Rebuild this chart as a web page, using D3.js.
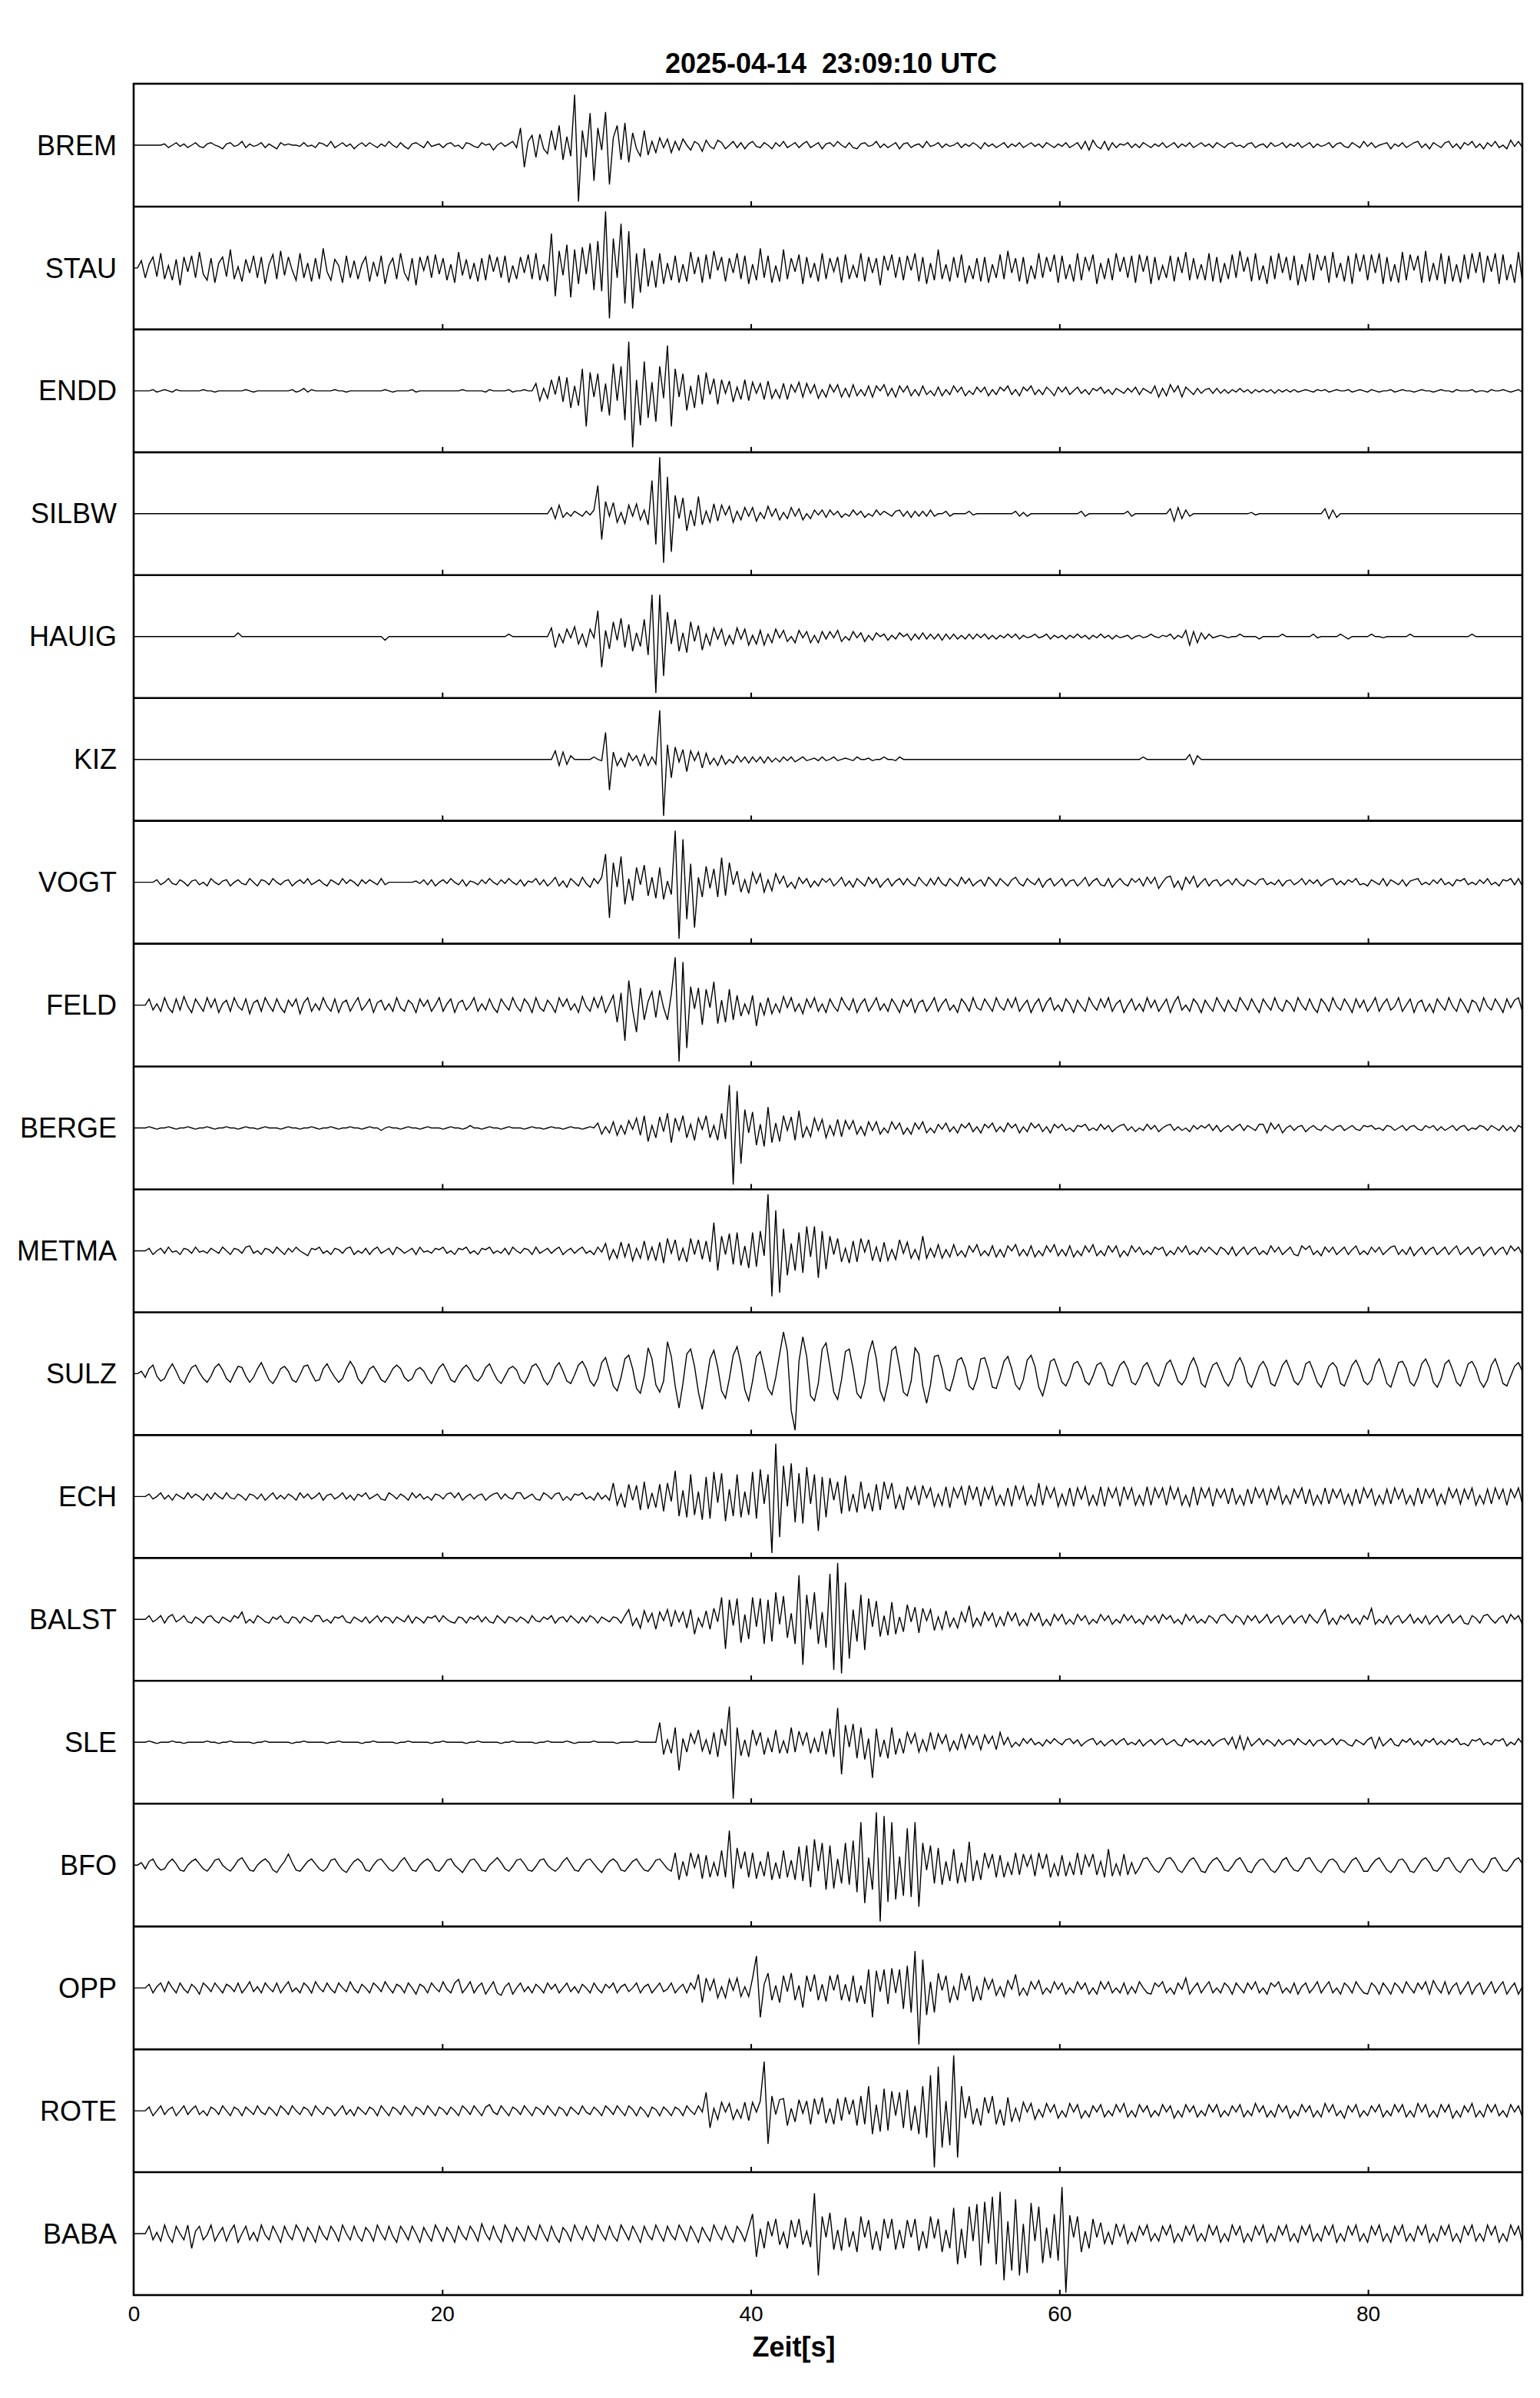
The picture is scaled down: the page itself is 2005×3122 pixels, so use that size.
<!DOCTYPE html>
<html>
<head>
<meta charset="utf-8">
<script src="https://cdn.jsdelivr.net/npm/d3@7"></script>
<style>
  body { margin: 0; background: #fff; }
  text { font-family: "Liberation Sans", Arial, sans-serif; fill: #000; }
</style>
</head>
<body>
<svg id="chart"></svg>
<script>
const title = '2025-04-14  23:09:10 UTC'
const axisLabel = 'Zeit[s]'
const stations = ['BREM', 'STAU', 'ENDD', 'SILBW', 'HAUIG', 'KIZ', 'VOGT', 'FELD', 'BERGE',
  'METMA', 'SULZ', 'ECH', 'BALST', 'SLE', 'BFO', 'OPP', 'ROTE', 'BABA']
const timeTicks = [0, 20, 40, 60, 80]
const panelTicks = [20, 40, 60, 80]
const timeSpan = [0, 90]
const ampRange = [-50, 50]

// peak amplitudes read every 0.25 s (one row = 5 s), +-50 fills half a panel
const brem = [
  0,0,0,0, 0,0,0,0, 1,-2,0,2, -1,1,-2,0, 2,-1,-2,1,
  2,0,-1,-3, 1,2,-1,0, 3,-2,1,-1, 0,2,-2,1, -1,-3,2,0,
  1,0,0,-1, 2,-1,0,-2, 2,1,-1,3, -2,0,2,-1, 1,-3,0,2,
  -1,2,0,-2, 1,-1,3,0, -2,2,-1,-3, 1,2,0,-2, 3,-1,0,1,
  -2,1,2,-1, 0,-3,2,1, -1,-2,2,0, 1,-4,0,2, -1,1,3,-2,
  14,-18,3,8, -10,9,-3,-7, 12,-4,16,-12, 7,-9,41,-46, 12,-10,26,-29,
  14,-4,27,-32, 6,16,-12,18, -14,10,-3,-9, 12,-8,3,-6, 6,-2,5,-6,
  3,-4,5,0, -4,3,1,-5, 4,-1,-3,4, 2,-3,0,3, -2,2,-3,1,
  3,-1,-2,2, 0,-3,2,-1, 3,-2,0,2, -2,1,3,-2, 0,2,-3,1,
  2,-1,3,0, -2,2,-2,-3, 1,2,-1,0, 3,-2,1,-2, 0,2,-3,1,
  2,-2,0,1, -2,3,-1,0, 2,-2,1,-1, 0,2,-2,1, -1,2,0,-3,
  2,-1,1,-2, 0,2,-2,1, -1,2,-2,0, 2,-1,1,-2, 2,0,-2,1,
  -1,2,-2,0, 2,-3,3,-4, 4,-1,-3,3, -4,2,-2,1, 0,2,-2,1,
  -2,2,0,-2, 1,-1,2,-2, 0,2,-2,1, -1,2,-2,0, 2,-1,1,-2,
  2,0,-2,1, 2,-1,0,-2, 1,2,-2,0, 1,-2,2,-1, 0,2,-2,1,
  -1,2,-2,0, 2,-2,1,-1, 0,2,-2,1, 2,-1,-2,2, 0,-2,3,-1,
  2,-2,0,1, 2,-3,1,-1, 2,-2,0,2, 3,-2,1,-3, 2,0,-2,2,
  3,-2,1,-3, 2,0,3,-2, 1,-3,2,-1, 3,-2,0,-3, 4,-1,3,-2
]
const stau = [
  0,0,6,-8, 3,9,-7,12, -9,2,-10,7, -14,9,-3,10, -8,13,-5,-10,
  8,-12,4,9, -7,15,-9,1, -11,7,-4,10, -8,9,-13,3, 11,-9,14,-6,
  9,-2,-10,12, -8,4,-11,8, -9,16,-3,-10, 7,2,-12,10, -8,6,-9,3,
  9,-11,5,-7, 10,-13,2,8, -9,12,-4,-10, 8,-14,9,-2, 10,-8,11,-5,
  8,-10,3,-12, 13,-6,7,-9, 4,-11,8,-10, 11,-3,9,-8, 10,-12,2,-9,
  9,-4,11,-9, 12,-10,3,-11, 28,-23,14,-6, 19,-24,15,-13, 17,-5,20,-18,
  22,-19,46,-41, 24,-8,36,-29, 30,-33,12,-20, 16,-15,6,-16, 12,-13,4,-10,
  10,-12,3,-11, 13,-5,9,-12, 11,-9,14,-2, 9,-11,8,-4, 12,-9,10,-13,
  3,-10,16,-8, 10,-12,2,-11, 15,-9,8,-3, 11,-13,9,-8, 4,-11,12,-9,
  8,-3,9,-12, 11,-9,2,-8, 12,-11,9,-4, 8,-14,10,-2, 11,-8,9,-10,
  10,-2,12,-11, 9,-13,4,-10, 15,-9,3,-11, 9,-8,11,-12, 2,-9,8,-11,
  9,-12,3,-8, 11,-9,14,-4, 8,-11,9,-13, 2,-9,12,-8, 9,-3,11,-12,
  10,-9,3,-11, 12,-10,9,-2, 11,-13,4,-9, 8,-10,12,-3, 9,-8,10,-12,
  11,-3,10,-13, 9,-10,2,-8, 10,-11,9,-4, 13,-10,8,-9, 3,-10,12,-11,
  9,-12,4,-9, 11,-8,14,-3, 9,-11,12,-10, 2,-13,10,-9, 12,-4,9,-10,
  10,-14,3,-11, 12,-10,11,-2, 10,-12,13,-8, 4,-11,10,-13, 12,-3,11,-10,
  11,-4,12,-13, 9,-11,3,-12, 13,-10,11,-2, 10,-12,14,-11, 4,-10,12,-13,
  10,-11,3,-12, 11,-9,12,-4, 13,-12,10,-3, 12,-13,11,-10, 3,-12,13,-11
]
const endd = [
  0,0,0,0, 0,1,-1,0, 1,0,-1,1, 0,0,0,0, 0,0,1,0,
  0,-1,0,0, 0,0,0,0, 0,1,0,-1, 0,0,0,0, 0,0,0,0,
  0,1,-1,0, 2,-1,1,0, 0,0,0,0, 1,0,0,-1, 0,0,0,0,
  0,0,0,0, 0,1,0,-1, 0,0,0,0, 1,-1,0,0, 0,0,0,0,
  0,0,0,0, 0,1,0,0, 0,0,0,-1, 1,0,0,0, 0,1,-1,0,
  0,1,0,0, 6,-8,2,-6, 9,-3,12,-9, 11,-14,4,-12, 18,-29,15,-5,
  14,-17,6,-20, 22,-8,20,-24, 40,-46,9,-28, 24,-22,7,-25, 20,-6,37,-29,
  18,-5,14,-16, 4,-14,13,-11, 15,-3,10,-11, 9,-2,8,-9, 3,-7,9,-8,
  7,-2,6,-7, 8,-6,1,-6, 6,-7,5,-1, 7,-5,6,-2, 5,-6,1,-5,
  5,-1,5,-5, 2,-5,5,-4, 1,-4,4,-5, 4,0,5,-4, 2,-5,4,-1,
  4,-4,1,-4, 4,-3,0,-4, 3,-4,1,-3, 4,-1,3,-4, 0,-3,3,-1,
  3,-4,1,-3, 3,0,4,-3, 1,-4,3,0, 4,-3,1,-3, 3,0,-4,3,
  -1,3,-3,0, 3,-2,1,-3, 2,0,3,-2, 1,-3,2,0, -2,2,-1,3,
  -3,2,0,-2, 4,-5,2,-4, 5,-1,4,-5, 3,0,-3,2, -2,1,2,-2,
  2,-2,1,-2, 1,-1,2,-1, 1,-2,1,-1, 1,-1,1,-2, 1,-1,1,-1,
  1,-1,0,1, 0,-1,1,0, 1,-1,0,1, 0,0,1,-1, 0,1,0,-1,
  1,0,-1,0, 0,1,-1,0, 1,0,0,-1, 0,1,0,0, -1,0,1,0,
  0,-1,1,0, 0,0,1,-1, 0,0,-1,1, 0,0,1,0, -1,0,1,-1
]
const silbw = [
  0,0,0,0, 0,0,0,0, 0,0,0,0, 0,0,0,0, 0,0,0,0,
  0,0,0,0, 0,0,0,0, 0,0,0,0, 0,0,0,0, 0,0,0,0,
  0,0,0,0, 0,0,0,0, 0,0,0,0, 0,0,0,0, 0,0,0,0,
  0,0,0,0, 0,0,0,0, 0,0,0,0, 0,0,0,0, 0,0,0,0,
  0,0,0,0, 0,0,0,0, 0,0,0,0, 0,0,0,0, 0,0,0,0,
  0,0,0,0, 0,0,0,0, 5,-4,7,-3, 1,-2,2,0, -2,2,-1,3,
  23,-21,10,-2, 9,-7,1,-8, 7,-2,8,-5, 3,-9,27,-25, 46,-40,30,-31,
  15,-4,13,-14, 3,-10,14,-9, 2,-7,8,-6, 7,-1,6,-7, 2,-5,5,-2,
  5,-6,1,-4, 6,-2,4,-5, 1,-4,5,-2, 4,-5,0,-4, 3,-1,3,-3,
  3,-1,2,-3, 0,-2,3,-1, 2,-3,0,-2, 3,-1,2,0, -2,2,3,-2,
  2,-3,2,-2, 2,-2,3,-2, 0,0,2,-2, 0,0,0,0, 2,-1,0,0,
  0,0,0,0, 0,0,0,0, 2,-2,1,-2, 0,0,0,0, 0,0,0,0,
  0,0,0,0, 0,2,-2,0, 0,0,0,0, 0,0,0,0, 0,2,-2,0,
  0,0,0,0, 0,0,0,0, 4,-6,5,-4, 3,-2,0,0, 0,0,0,0,
  0,0,0,0, 0,0,0,0, 0,1,-1,0, 0,0,0,0, 0,0,0,0,
  0,0,0,0, 0,0,0,0, 4,-4,3,-3, 0,0,0,0, 0,0,0,0,
  0,0,0,0, 0,0,0,0, 0,0,0,0, 0,0,0,0, 0,0,0,0,
  0,0,0,0, 0,0,0,0, 0,0,0,0, 0,0,0,0, 0,0,0,0
]
const hauig = [
  0,0,0,0, 0,0,0,0, 0,0,0,0, 0,0,0,0, 0,0,0,0,
  0,0,0,0, 0,0,0,3, 0,0,0,0, 0,0,0,0, 0,0,0,0,
  0,0,0,0, 0,0,0,0, 0,0,0,0, 0,0,0,0, 0,0,0,0,
  0,0,0,0, 0,-3,0,0, 0,0,0,0, 0,0,0,0, 0,0,0,0,
  0,0,0,0, 0,0,0,0, 0,0,0,0, 0,0,0,0, 0,2,0,0,
  0,0,0,0, 0,0,0,0, 7,-9,2,-5, 6,-1,8,-6, 2,-8,6,-1,
  21,-25,5,-10, 12,-3,15,-9, 10,-12,3,-8, 14,-15,34,-46, 34,-32,20,-6,
  14,-12,3,-13, 12,-4,9,-11, 2,-7,7,-2, 6,-7,1,-6, 7,-2,6,-7,
  1,-6,5,-7, 2,-5,6,-1, 5,-4,0,-5, 5,-1,4,-5, 1,-5,4,-2,
  4,-1,5,-4, 0,-3,4,-1, 3,-4,1,-3, 3,0,2,-3, 1,-2,3,0,
  2,-3,2,-2, 3,-2,2,-2, 2,-3,2,-2, 2,-2,1,-2, 2,-2,2,-1,
  2,-2,1,-2, 1,-1,2,-1, 2,-2,1,-1, 0,2,-1,0, 2,-2,1,-1,
  1,-2,1,-1, 2,-1,1,-2, 1,-1,2,-1, 1,-2,1,-1, 0,1,-2,0,
  1,-1,0,2, 0,-1,1,0, 2,-2,1,-1, 5,-7,4,-5, 3,-2,2,-1,
  0,1,0,-1, 0,0,2,0, 0,0,0,-2, 0,0,0,0, 0,2,0,0,
  0,0,0,0, 0,2,-1,0, 0,0,0,0, 2,0,-2,0, 0,0,0,0,
  2,0,0,-1, 0,0,0,0, 0,0,2,0, 0,0,0,0, 0,0,0,0,
  0,0,0,0, 0,0,2,0, 0,0,0,0, 0,0,0,0, 0,0,0,0
]
const kiz = [
  0,0,0,0, 0,0,0,0, 0,0,0,0, 0,0,0,0, 0,0,0,0,
  0,0,0,0, 0,0,0,0, 0,0,0,0, 0,0,0,0, 0,0,0,0,
  0,0,0,0, 0,0,0,0, 0,0,0,0, 0,0,0,0, 0,0,0,0,
  0,0,0,0, 0,0,0,0, 0,0,0,0, 0,0,0,0, 0,0,0,0,
  0,0,0,0, 0,0,0,0, 0,0,0,0, 0,0,0,0, 0,0,0,0,
  0,0,0,0, 0,0,0,0, 0,7,-5,6, -4,3,0,0, 0,0,0,2,
  0,-1,22,-25, 6,-5,1,-6, 5,-1,3,-5, 4,-5,2,-4, 40,-46,12,-15,
  10,-2,8,-10, 7,-1,6,-7, 5,-4,1,-5, 3,-4,0,-3, 3,-2,2,-3,
  2,-2,2,-3, 2,-2,1,-2, 2,-1,2,-2, 0,2,-1,0, 1,-1,2,-1,
  0,2,-1,0, 1,0,-1,2, 0,0,1,-1, 0,0,2,0, 0,-1,2,0,
  0,0,0,0, 0,0,0,0, 0,0,0,0, 0,0,0,0, 0,0,0,0,
  0,0,0,0, 0,0,0,0, 0,0,0,0, 0,0,0,0, 0,0,0,0,
  0,0,0,0, 0,0,0,0, 0,0,0,0, 0,0,0,0, 0,0,0,0,
  0,2,0,0, 0,0,0,0, 0,0,0,0, 0,4,-4,3, 0,0,0,0,
  0,0,0,0, 0,0,0,0, 0,0,0,0, 0,0,0,0, 0,0,0,0,
  0,0,0,0, 0,0,0,0, 0,0,0,0, 0,0,0,0, 0,0,0,0,
  0,0,0,0, 0,0,0,0, 0,0,0,0, 0,0,0,0, 0,0,0,0,
  0,0,0,0, 0,0,0,0, 0,0,0,0, 0,0,0,0, 0,0,0,0
]
const vogt = [
  0,0,0,0, 0,0,2,-2, 0,3,-1,-2, 2,0,-3,1, 2,-2,0,-3,
  3,0,-2,1, 2,-3,0,2, -1,-2,3,0, -3,2,1,-2, 3,0,-2,1,
  2,-3,0,2, -1,3,-2,0, 2,-1,-3,2, 0,-2,3,-1, 2,0,-3,2,
  -1,2,0,-2, 3,-2,0,0, 0,0,0,0, 0,1,-1,2, -2,2,-3,0,
  2,-1,3,0, -2,2,-3,1, 0,-2,2,-1, 3,0,-2,2, -1,3,0,-2,
  2,-3,1,0, 3,-2,2,-3, 0,4,-3,1, -4,3,0,-3, 4,-1,-4,3,
  -1,4,23,-29, 16,-4,21,-18, 3,-15,12,-2, 14,-11,4,-13, 12,-14,1,-10,
  42,-46,35,-30, 15,-37,4,-12, 13,-5,11,-12, 20,-11,16,-2, 9,-8,2,-9,
  8,-1,7,-8, 2,-7,7,-1, 5,-4,0,-5, 4,-1,3,-4, 1,-3,3,0,
  3,-3,0,4, -3,1,-4,3, 0,-3,4,-1, 3,-4,0,3, -3,1,3,-2,
  3,-1,-3,4, 0,-3,3,-2, 4,-1,-3,3, 0,-3,4,-1, 3,-3,0,2,
  -3,4,1,-3, 3,0,-3,2, 4,-1,-3,3, 0,-2,3,-4, 1,3,-3,0,
  3,-3,1,2, -3,0,4,-3, 1,3,-2,-3, 3,-4,0,3, -1,-3,3,0,
  3,-3,4,-1, 4,-5,0,4, 5,-4,1,-6, 4,-1,5,-4, 0,3,-3,1,
  2,-3,0,2, -2,3,-1,-3, 2,0,-2,2, 3,-2,0,-2, 2,-3,1,2,
  -2,0,3,-2, 2,-1,2,-3, 0,2,3,-2, 1,-2,2,0, 3,-2,-1,-3,
  2,0,-2,3, -3,2,0,-2, 2,-3,1,2, 3,-2,0,-2, 2,-1,3,-2,
  0,-3,2,1, 3,-2,0,-2, 2,-1,3,-2, 0,-3,2,1, 3,-2,3,-3
]
const feld = [
  0,0,0,0, 5,-4,1,-5, 6,-2,-6,5, -4,7,-1,-6, 5,0,-5,6,
  -2,5,-6,1, 4,-5,6,-1, -4,5,-7,2, 4,-5,6,0, -5,5,-2,-6,
  4,-1,5,-7, 2,6,-5,1, -4,6,-1,-5, 5,-6,2,4, -5,1,6,-4,
  0,5,-6,2, 4,-4,1,-5, 6,-2,-5,4, 1,-6,5,-1, 4,-5,0,6,
  -5,1,5,-6, 2,4,-4,0, 6,-5,1,-4, 5,-2,-6,5, 0,-4,6,-1,
  -5,5,1,-6, 6,-2,-5,4, 0,-6,6,-1, 5,-4,1,-6, 7,-1,-5,6,
  -2,7,-6,1, 8,-14,10,-29, 20,-4,-22,14, -12,3,11,-10, 12,-2,-12,9,
  39,-46,35,-35, 15,-3,14,-16, 13,-2,19,-15, 4,-14,13,-12, 8,-9,1,-7,
  8,-17,2,-8, 6,-7,1,-6, 7,-2,6,-5, 1,-7,5,-2, 6,-5,1,-6,
  5,-1,-5,6, 0,-4,5,-6, 1,5,-5,0, 6,-4,1,-5, 5,0,-6,4,
  -1,5,-6,2, 4,-5,0,6, -5,1,5,-4, 0,-6,5,1, -5,6,-2,-4,
  5,0,-5,6, -1,-4,5,-2, 6,-5,0,4, -6,1,5,-5, 2,6,-4,0,
  -5,5,1,-6, 4,-1,-5,6, 0,-4,5,-2, 6,-5,1,4, -6,0,5,-4,
  1,-5,6,-2, 4,-5,0,5, -6,2,7,-4, 0,-5,5,1, -6,4,-1,-5,
  6,0,-5,4, -2,-5,6,1, -4,5,-1,-6, 5,0,-4,6, -2,-5,4,1,
  -5,6,0,-4, 5,-2,-6,5, 1,-5,6,-1, -4,5,0,-6, 5,-2,4,-5,
  0,6,-5,1, 5,-4,-1,6, -5,0,5,-6, 2,4,-5,1, -6,5,0,-4,
  6,-1,-5,5, 0,-6,4,2, -5,6,-1,-4, 5,0,-6,5, -2,4,6,-5
]
const berge = [
  0,0,0,0, 1,0,-1,0, 0,1,0,-1, 0,0,1,0, -1,0,0,1,
  0,-1,0,0, 1,0,0,-1, 0,1,0,0, -1,0,1,0, 0,0,-1,0,
  1,0,0,-1, 0,0,1,0, -1,0,0,1, 0,-1,0,0, 1,0,0,-1,
  0,1,0,0, -2,0,1,0, 0,-1,0,1, 0,0,-1,0, 1,0,0,0,
  -1,0,1,0, 0,-1,0,2, 0,0,-1,0, 1,0,0,-1, 0,1,0,0,
  0,-1,0,1, 0,0,-1,0, 1,0,0,-1, 0,1,0,0, -1,0,1,0,
  4,-5,1,-4, 5,-6,2,-5, 6,-1,8,-6, 10,-11,2,-8, 9,-3,12,-12,
  8,-2,10,-8, 3,-10,8,-1, 10,-8,2,-10, 12,-9,35,-46, 30,-29,15,-4,
  13,-14,3,-15, 17,-12,4,-11, 10,-2,9,-10, 14,-8,1,-7, 8,-2,7,-8,
  2,-6,7,-7, 6,-1,6,-5, 1,-6,5,-2, 5,-5,0,-4, 5,-1,4,-5,
  0,-5,4,-1, 5,-4,0,-4, 3,-1,4,-3, 1,-4,3,0, 4,-3,1,-4,
  3,0,4,-3, 1,-3,4,0, 3,-4,1,-3, 4,0,3,-3, 1,-4,3,0,
  3,-2,0,-3, 2,1,3,-2, 0,-2,3,-1, 2,-3,0,2, 3,-2,1,-3,
  0,-2,3,-1, 2,-3,0,2, 3,-2,1,-2, 0,-3,2,-1, 2,0,3,-2,
  2,-3,0,2, -2,1,3,-2, 2,0,-2,3, 3,-4,4,-1, 3,-4,0,2,
  -2,1,2,-3, 0,2,-1,-2, 2,0,-2,1, 2,-2,0,2, -1,-2,2,1,
  2,-1,0,-2, 2,1,-2,0, 2,-2,1,2, -1,-2,2,0, 2,-2,1,-2,
  0,2,-2,1, 2,-2,0,-1, 2,1,-2,2, 0,-2,2,-2, 1,-3,2,0
]
const metma = [
  0,0,0,0, 2,-3,0,2, -2,3,-1,0, -3,2,1,-2, 3,-1,0,-2,
  2,0,-2,3, 0,-3,2,1, -2,3,4,-2, 0,-3,2,1, -2,3,0,-3,
  2,-1,3,0, -2,-4,2,1, 3,-2,0,-3, 2,1,-2,2, 3,-3,0,-2,
  2,-3,1,3, -2,0,2,-3, 3,1,-2,0, 2,-3,3,-1, 0,-2,2,1,
  3,-2,0,-3, 2,1,3,-2, 0,-3,2,1, 3,-2,0,-2, 2,-3,3,0,
  -2,2,1,-3, 3,-2,0,2, -2,1,3,-3, 0,2,-2,1, 3,-2,0,-3,
  3,-1,6,-7, 1,-6,7,-5, 6,-8,2,-6, 8,-7,3,-8, 7,-10,10,-2,
  9,-8,2,-9, 10,-3,9,-7, 8,-9,23,-16, 12,-3,14,-11, 15,-12,4,-14,
  15,-13,16,-4, 46,-37,33,-34, 18,-20,6,-16, 15,-18,20,-5, 20,-22,16,-15,
  12,-3,10,-9, 2,-10,8,-9, 10,-1,9,-8, 3,-9,7,-8, 1,-7,9,-2,
  7,-6,1,-7, 12,-6,2,-5, 5,-6,1,-5, 5,-4,0,-5, 4,-1,5,-4,
  0,-4,4,-5, 1,-5,4,0, 5,-4,1,-4, 4,-5,0,-4, 4,-1,5,-4,
  1,-4,4,-5, 0,-4,4,-1, 5,-4,0,-4, 4,-1,4,-5, 0,-4,4,-1,
  3,-3,0,-3, 3,1,3,-4, 0,-3,3,-1, 4,-3,0,-3, 3,-1,3,0,
  -3,3,1,-3, 3,-4,0,3, -3,1,3,-3, 0,-3,4,-1, 3,-3,0,3,
  -3,-4,4,1, 4,-3,0,-4, 3,-1,3,-3, 0,3,-3,1, 4,-3,0,-3,
  3,-1,3,-3, 0,3,4,-3, 1,-3,3,-4, 0,3,-3,1, 3,-3,0,3,
  -3,1,4,-3, 0,3,-3,1, 3,-4,0,3, -3,1,3,-3, 4,0,3,-3
]
const sulz = [
  0,0,2,-3, 4,7,-2,-6, -4,3,8,2, -5,-8,-1,5, 7,1,-4,-7,
  -2,5,8,3, -4,-7,0,6, 5,-2,-7,-3, 4,9,2,-5, -8,-3,4,6,
  2,-5,-7,-1, 6,7,0,-6, -5,4,8,2, -3,-7,-4,4, 10,5,-4,-8,
  -3,4,6,1, -5,-7,-2,4, 7,4,-3,-6, -4,3,5,2, -4,-8,-1,5,
  8,2,-5,-7, -1,4,7,3, -4,-6,-2,5, 8,1,-5,-8, -2,4,6,3,
  -5,-8,-2,6, 8,3,-5,-9, -4,5,9,2, -6,-8,-1,7, 10,4,-6,-10,
  -4,9,13,2, -10,-14,-3,12, 15,4,-12,-16, -2,21,12,-9, -15,-6,26,14,
  -10,-28,-8,16, 20,6,-15,-29, -9,12,19,5, -14,-20,-4,15, 22,8,-13,-22,
  -6,14,18,4, -12,-17,-3,16, 34,18,-30,-46, 10,30,14,-18, -22,-8,20,25,
  6,-15,-21,-5, 18,20,4,-16, -20,-8,16,27, 12,-14,-22,-8, 19,22,5,-15,
  -18,-6,21,16, -10,-24,-9,14, 15,4,-12,-14, -3,11,13,5, -10,-13,-4,12,
  13,3,-11,-12, -2,10,14,4, -9,-13,-5,11, 15,6,-11,-18, -6,10,12,3,
  -7,-10,-3,8, 10,4,-6,-9, -2,7,9,3, -8,-10,-1,7, 10,4,-7,-9,
  -3,6,9,2, -7,-10,-2,8, 11,3,-6,-9, -4,7,13,5, -8,-11,-1,7,
  9,2,-6,-10, -4,8,13,6, -7,-11,-3,6, 10,4,-8,-10, -2,7,11,3,
  -6,-9,-4,8, 10,2,-7,-11, -3,6,9,5, -8,-10,-2,7, 11,4,-6,-9,
  -5,7,12,3, -8,-11,-1,9, 10,4,-7,-10, -3,8,12,5, -7,-11,-4,8,
  11,3,-7,-10, -2,8,10,4, -6,-11,-5,7, 12,3,-8,-10, -2,6,9,2
]
const ech = [
  0,0,0,0, 2,-2,0,3, -2,1,-3,2, 0,-2,3,-1, 2,0,-3,2,
  -2,3,0,-2, 3,-1,-2,2, 0,-3,2,1, -2,2,-3,0, 3,-2,1,-2,
  2,0,-3,3, -1,2,-2,0, 3,-3,1,2, -2,0,3,-2, 1,-3,2,0,
  3,-2,0,2, -2,-3,3,1, -2,2,0,-3, 3,-1,2,-2, 0,-3,2,1,
  -2,2,3,-1, 3,-3,0,2, -2,1,2,-3, 0,2,3,-2, 2,-1,-2,3,
  3,-2,0,2, -2,-3,3,1, -2,2,3,-3, 0,-3,2,1, 3,-2,0,-3,
  3,-2,1,-3, 11,-7,2,-9, 10,-3,9,-11, 12,-10,3,-9, 10,-12,11,-4,
  21,-16,5,-17, 18,-15,4,-19, 16,-18,20,-5, 19,-20,6,-16, 18,-17,4,-15,
  20,-18,22,-6, 18,-46,43,-33, 25,-8,27,-21, 19,-22,24,-6, 18,-28,16,-17,
  15,-3,12,-14, 17,-12,2,-13, 12,-10,3,-12, 10,-11,12,-2, 11,-10,1,-11,
  8,-2,8,-7, 9,-1,7,-8, 2,-7,8,-9, 7,-1,8,-7, 9,-2,8,-8,
  7,-2,8,-7, 1,-7,7,-8, 9,-2,8,-7, 1,-8,11,-7, 8,-1,7,-8,
  2,-7,7,-8, 7,-2,8,-7, 1,-7,8,-8, 7,-1,7,-8, 8,-2,7,-7,
  1,-7,8,-7, 7,-1,7,-7, 8,-2,7,-7, 1,-8,8,-7, 7,-1,7,-8,
  6,-1,6,-6, 7,-6,1,-7, 6,-6,7,-1, 6,-7,6,-2, 8,-6,1,-6,
  6,-1,7,-6, 6,-7,1,-6, 7,-6,6,-1, 6,-6,2,-7, 6,-6,7,-1,
  6,-7,1,-6, 6,-6,7,-2, 6,-6,1,-7, 7,-6,6,-1, 6,-7,2,-6,
  7,-1,6,-6, 6,-2,7,-7, 1,-6,6,-6, 7,-2,6,-7, 6,-1,7,-6
]
const balst = [
  0,0,0,0, 3,-2,0,3, -3,2,4,-2, 0,3,-2,-3, 2,0,-3,2,
  3,-1,-3,2, 0,-2,3,1, 6,-3,0,-3, 3,1,-2,-3, 2,0,3,-2,
  -3,2,1,-3, 2,0,-2,3, 3,-2,0,-3, 2,1,3,-2, -3,2,0,-2,
  2,-3,0,3, -2,2,1,-3, 2,0,-2,3, -3,2,0,-3, 2,1,3,-2,
  3,0,-2,-3, 2,1,-3,2, 0,3,-2,2, -2,-3,3,0, -3,2,1,-2,
  2,0,-3,3, -1,-2,2,0, 3,-3,1,2, -2,3,0,-3, 2,-2,3,1,
  -3,2,0,-2, 2,1,-3,3, 8,-5,1,-7, 7,-2,5,-8, 6,-1,8,-6,
  7,-2,6,-7, 8,-12,1,-6, 7,-8,9,-2, 18,-24,16,-5, 17,-19,4,-16,
  18,-6,17,-20, 16,-18,22,-4, 19,-15,5,-20, 36,-37,20,-8, 22,-20,6,-23,
  37,-41,46,-44, 30,-32,8,-18, 20,-25,17,-6, 15,-14,3,-13, 14,-12,2,-10,
  12,-2,10,-11, 9,-1,8,-9, 2,-8,7,-6, 1,-7,6,-2, 11,-6,1,-5,
  6,-1,5,-6, 2,-5,6,-1, 5,-5,0,-5, 5,-1,5,-5, 0,-5,4,-1,
  4,-4,0,-4, 4,-1,3,-4, 0,-3,4,-1, 3,-4,0,-3, 4,-1,3,-3,
  0,-4,3,-1, 3,-3,4,0, 3,-3,0,-4, 4,-1,3,-3, 0,-3,3,1,
  -3,3,4,0, -3,3,1,-4, 3,-1,3,-3, 0,4,-3,1, 3,-4,0,3,
  -3,1,3,-3, 4,0,-3,3, 8,-4,1,-4, 3,0,4,-3, 1,-4,3,0,
  9,-4,0,-3, 3,-4,1,3, -3,0,4,-3, 1,-3,3,-4, 0,3,-3,1,
  4,-3,0,3, -3,-4,3,1, -3,3,4,0, -3,1,3,-3, 4,0,3,-4
]
const sle = [
  0,0,0,0, 1,0,-1,0, 0,0,1,0, 0,-1,0,0, 0,0,0,1,
  0,0,-1,0, 0,1,0,0, 0,0,0,-1, 0,0,1,0, 0,0,0,0,
  0,-1,0,0, 1,0,0,0, 0,0,-1,0, 0,1,0,0, 0,0,0,-1,
  0,0,1,0, 0,0,0,0, -1,0,0,1, 0,0,0,0, 0,-1,0,0,
  1,0,0,0, 0,0,-1,0, 0,1,0,0, 0,0,0,-1, 0,0,1,0,
  0,0,0,0, -1,0,0,1, 0,0,0,0, 1,0,-1,0, 0,0,0,1,
  0,0,0,0, 0,-1,0,0, 0,0,1,0, 0,0,0,0, 16,-10,2,-9,
  12,-23,3,-8, 7,-1,10,-7, 2,-10,8,-12, 11,-3,29,-46, 12,-11,2,-12,
  10,-2,8,-10, 3,-8,10,-9, 1,-9,12,-8, 9,-2,8,-9, 3,-8,9,-10,
  11,-12,28,-26, 14,-4,15,-13, 12,-14,3,-29, 11,-12,2,-13, 12,-10,3,-9,
  8,-1,7,-8, 2,-7,8,-6, 7,-1,6,-7, 1,-6,7,-5, 6,-2,5,-6,
  6,-1,5,-6, 8,-2,4,-4, 0,-3,3,-1, 3,-2,0,-3, 2,-1,3,0,
  -2,2,3,-1, 2,-3,0,2, 3,-2,1,-3, 0,2,-2,1, 3,-2,0,-2,
  2,-3,0,2, -2,1,3,-2, 0,2,-2,-3, 3,0,2,-2, 1,-2,2,-3,
  0,2,3,-2, 4,-5,5,-6, 4,-3,0,3, -2,2,0,-3, 2,-2,1,2,
  -2,3,0,-2, 2,-3,1,2, -2,0,3,-2, 2,1,-2,-3, 2,0,-2,2,
  4,-5,4,-3, 0,3,-2,-3, 2,0,3,-2, 1,-3,2,0, 3,-2,1,-2,
  2,0,3,-2, -1,-3,2,1, 3,-2,0,-2, 2,1,3,-3, 0,-2,3,-1
]
const bfo = [
  0,0,2,-3, 3,5,-1,-4, -3,2,5,1, -4,-5,0,3, 5,1,-3,-5,
  -1,4,5,0, -3,-5,-1,4, 6,1,-4,-5, 0,3,5,2, -4,-6,-1,3,
  9,2,-4,-5, -1,3,5,1, -3,-5,-2,4, 5,0,-4,-6, -1,3,5,2,
  -4,-5,0,4, 5,1,-3,-5, -2,3,6,1, -4,-5,0,3, 5,2,-4,-5,
  -1,4,5,0, -3,-6,-1,4, 5,1,-4,-5, 0,3,6,2, -3,-5,-1,4,
  5,1,-4,-5, -1,4,5,0, -3,-5,-2,3, 6,1,-4,-5, 0,4,5,1,
  -3,-6,-1,3, 5,2,-4,-5, -1,3,5,0, -4,-5,-1,4, 5,1,-3,-5,
  10,-12,3,-9, 10,-2,9,-11, 8,-10,2,-9, 12,-10,28,-19, 14,-3,11,-10,
  10,-11,3,-9, 11,-12,2,-11, 12,-10,4,-12, 15,-13,16,-18, 21,-5,18,-20,
  16,-19,5,-15, 18,-16,20,-22, 35,-31,6,-20, 43,-46,40,-30, 35,-28,7,-25,
  30,-26,35,-34, 18,-4,16,-15, 14,-16,3,-13, 13,-15,2,-14, 19,-13,4,-12,
  10,-2,9,-10, 8,-10,2,-8, 10,-8,9,-1, 8,-9,10,-3, 9,-10,1,-9,
  8,-9,2,-8, 10,-8,8,-1, 9,-8,3,-10, 13,-9,1,-8, 9,-8,2,-7,
  -2,5,6,1, -4,-6,-1,5, 6,2,-4,-6, -1,4,6,1, -5,-6,0,4,
  6,2,-4,-5, -1,4,6,1, -5,-6,0,4, 5,1,-4,-6, -2,4,6,0,
  -4,-5,-1,5, 6,1,-4,-6, -1,4,5,2, -4,-6,-1,4, 6,1,-5,-5,
  0,4,6,1, -4,-6,-2,4, 5,1,-5,-6, -1,4,6,2, -4,-5,-1,5,
  6,1,-4,-6, -1,4,5,0, -4,-6,-2,5, 6,1,-4,-5, -1,4,6,1
]
const opp = [
  0,0,0,0, 3,-4,1,4, -3,5,0,-4, 4,-1,-4,3, 0,-5,4,1,
  -3,4,0,-4, 3,1,-3,4, -4,0,5,-3, 1,-4,4,0, -3,4,-4,1,
  5,-3,0,-4, 4,1,-4,5, 0,-3,4,-1, -4,4,0,-3, 5,-1,-4,3,
  0,-4,4,1, -3,5,0,-4, 3,1,-4,4, 0,-5,3,1, -4,4,0,-3,
  5,-1,-4,4, 7,-4,0,5, -4,1,4,-5, 0,5,-4,-6, 1,4,-5,0,
  4,-3,1,-4, 3,0,-4,4, -1,3,-4,0, 4,-3,1,-4, 3,0,-4,4,
  -1,-4,3,0, 4,-4,1,3, -3,0,4,-4, 1,3,-4,0, 4,-3,-1,4,
  -4,0,3,-4, 4,-1,11,-12, 8,-2,7,-8, 1,-8,7,-2, 8,-7,1,-7,
  8,26,-24,3, 12,-10,2,-12, 10,-3,12,-10, 2,-16,10,-3, 11,-10,3,-11,
  10,-2,11,-10, 3,-11,10,-12, 2,-13,15,-24, 14,-3,15,-13, 16,-4,15,-17,
  18,-20,30,-46, 23,-22,5,-20, 12,-2,10,-12, 1,-10,12,-2, 10,-11,1,-10,
  8,-1,7,-6, 1,-7,6,-1, 11,-6,0,-6, 5,-1,6,-5, 0,-4,5,-1,
  4,-5,0,-4, 5,-1,4,-5, 0,-5,5,-1, 5,-4,0,-4, 4,-5,1,-4,
  5,0,-4,-5, 4,1,5,-4, 0,-5,4,-1, 8,-5,0,4, -4,1,5,-4,
  0,-4,4,1, -5,4,0,-4, 4,-1,5,-4, 0,-5,4,1, 5,-4,0,-4,
  4,-5,1,4, -4,0,5,-4, 1,5,-4,0, -5,4,1,-4, 5,0,-4,-5,
  4,1,-5,4, 0,-5,4,1, -4,5,0,-4, 4,-1,5,-5, 6,0,-4,5,
  -5,1,4,-5, 0,5,-5,1, 4,-5,0,5, -4,1,5,-5, 0,4,-5,1
]
const rote = [
  0,0,0,0, 3,-4,0,4, -3,1,3,-4, 0,4,-3,1, 4,-3,0,-4,
  3,1,-3,4, 0,-4,3,1, -4,3,0,-3, 4,-1,-3,3, 0,-4,4,1,
  -3,4,0,-3, 3,1,-4,4, 0,-3,3,1, -4,0,4,-3, 1,-4,3,0,
  -3,3,1,-4, 4,0,-4,3, 1,-3,4,0, -4,3,1,-3, 4,0,-4,3,
  1,-3,3,0, -4,4,1,-3, 4,0,-4,3, 5,-1,-3,4, 0,-4,3,1,
  -3,4,0,-4, 3,1,-3,4, 0,-4,3,1, -4,3,0,-3, 4,-1,-3,3,
  0,-4,4,1, -3,4,0,-4, 4,1,-4,3, 0,-5,3,1, -4,3,0,-4,
  3,1,-4,4, 0,-3,4,-1, 15,-14,2,-7, 7,-1,6,-7, 1,-6,7,-8,
  7,-1,8,40, -27,12,-3,9, 10,-12,2,-9, 9,-2,8,-11, 10,-3,11,-10,
  2,-11,10,-8, 11,-3,9,-12, 12,-11,20,-19, 5,-17,18,-16, 16,-4,15,-14,
  17,-16,4,-19, 20,-22,29,-46, 36,-30,8,-28, 45,-38,20,-6, 12,-11,2,-12,
  11,-2,12,-11, 1,-12,11,-9, 2,-8,7,-1, 6,-7,1,-5, 6,-1,5,-6,
  0,-5,6,-1, 5,-6,0,-5, 4,-1,5,-5, 0,-4,5,-1, 6,-5,0,-5,
  5,-1,4,-5, 0,-4,5,-1, 4,-6,0,-5, 5,-1,4,-5, 0,-4,5,-1,
  5,-5,0,-4, 4,-1,5,-5, 0,-4,6,-1, 4,-5,0,-5, 5,-1,4,-6,
  0,-4,5,-1, 4,-5,0,-5, 6,-1,5,-4, 0,-6,4,-1, 5,-5,0,-4,
  4,-1,5,-5, 0,-4,5,-1, 5,-5,0,-5, 6,-1,5,-5, 0,-5,5,-1,
  5,-6,0,-5, 4,-1,6,-5, 0,-5,5,-1, 5,-4,0,-5, 5,-1,4,-5
]
const baba = [
  0,0,0,0, 6,-5,1,-6, 7,-2,-7,6, 0,-5,7,-12, 2,6,-5,-1,
  7,-6,0,5, -6,2,7,-7, 0,6,-5,1, -6,7,-1,-5, 6,0,-7,6,
  -1,-5,7,2, -6,5,0,-7, 6,-1,-5,6, 1,-6,7,0, -5,6,-2,-6,
  5,1,-6,7, 0,-5,6,-2, -7,6,1,-5, 6,0,-7,5, -1,-6,7,1,
  -6,5,0,-7, 6,-1,-5,6, 1,-6,8,0, -5,6,-2,-7, 7,1,-6,5,
  0,-6,6,-1, -5,7,0,-6, 6,-2,-7,5, 1,-6,7,0, -5,6,-1,-6,
  7,0,-5,6, -2,-6,7,1, -5,6,0,-7, 6,-1,-5,7, 0,-6,6,-1,
  -5,7,1,-6, 6,0,-7,5, -1,-6,7,0, -5,6,-2,-7, 6,1,-6,5,
  16,-19,4,-12, 10,-2,12,-9, 1,-12,11,-3, 12,-9,2,-11, 33,-34,14,-3,
  17,-13,3,-14, 13,-11,2,-15, 14,-3,11,-13, 2,-14,12,-4, 12,-13,3,-12,
  11,-3,12,-14, 2,-12,14,-4, 12,-15,3,-12, 21,-25,4,-20, 22,-6,24,-26,
  26,-8,30,-25, 34,-38,10,-30, 28,-34,8,-32, 25,-6,22,-24, 5,-20,16,-22,
  38,-48,15,-3, 14,-15,2,-12, 12,-3,9,-8, 1,-9,8,-2, 7,-8,1,-6,
  6,-1,7,-6, 0,-6,6,-1, 7,-7,0,-6, 6,-1,7,-6, 0,-6,7,-1,
  6,-7,0,-6, 7,-1,6,-7, 0,-6,6,-1, 7,-7,0,-6, 6,-1,7,-6,
  0,-7,6,-1, 7,-6,0,-6, 6,-1,7,-7, 0,-6,6,-1, 7,-6,0,-7,
  6,-1,7,-6, 0,-7,6,-1, 7,-6,0,-6, 6,-1,7,-7, 0,-6,6,-1,
  7,-6,0,-7, 6,-1,7,-6, 0,-6,7,-1, 6,-7,0,-6, 7,-1,6,-7
]
const traces = [brem, stau, endd, silbw, hauig, kiz, vogt, feld, berge,
  metma, sulz, ech, balst, sle, bfo, opp, rote, baba]

const width = 2005
const height = 3122
const margin = { top: 109, right: 23, bottom: 134, left: 174 }

const svg = d3.select('#chart')
  .attr('width', width)
  .attr('height', height)

const x = d3.scaleLinear()
  .domain(timeSpan)
  .range([margin.left, width - margin.right])

const band = d3.scaleBand()
  .domain(stations)
  .range([margin.top, height - margin.bottom])

const y = d3.scaleLinear()
  .domain(ampRange)
  .range([band.bandwidth(), 0])

svg.append('text')
  .attr('x', 1082)
  .attr('y', 95)
  .attr('text-anchor', 'middle')
  .style('font-size', '36px')
  .style('font-weight', 'bold')
  .style('white-space', 'pre')
  .text(title)

svg.append('clipPath')
  .attr('id', 'panel-clip')
  .append('rect')
  .attr('x', x(timeSpan[0]))
  .attr('y', 0)
  .attr('width', x(timeSpan[1]) - x(timeSpan[0]))
  .attr('height', band.bandwidth())

const panels = svg.selectAll('g.panel')
  .data(stations)
  .enter()
  .append('g')
  .attr('class', 'panel')
  .attr('transform', d => `translate(0, ${band(d)})`)

panels.append('path')
  .attr('clip-path', 'url(#panel-clip)')
  .attr('fill', 'none')
  .attr('stroke', '#000')
  .attr('stroke-width', 1.4)
  .attr('d', (d, k) => {
    const values = traces[k]
    const step = (timeSpan[1] - timeSpan[0]) / (values.length - 1)
    return d3.line()
      .x((v, i) => x(timeSpan[0] + i * step))
      .y(v => y(v))(values)
  })

// small inward ticks on the lower edge of every panel
panels.append('g')
  .attr('transform', `translate(0, ${band.bandwidth()})`)
  .call(d3.axisBottom(x).tickValues(panelTicks).tickSize(-7).tickFormat(''))
  .call(g => g.select('.domain').remove())
  .selectAll('line')
  .attr('stroke', '#000')
  .attr('stroke-width', 2)

panels.append('text')
  .attr('x', 152)
  .attr('y', band.bandwidth() / 2)
  .attr('dy', '0.35em')
  .attr('text-anchor', 'end')
  .style('font-size', '36px')
  .text(d => d)

// separators and frame
svg.selectAll('line.sep')
  .data(stations.slice(1))
  .enter()
  .append('line')
  .attr('class', 'sep')
  .attr('x1', x(timeSpan[0]))
  .attr('x2', x(timeSpan[1]))
  .attr('y1', d => band(d))
  .attr('y2', d => band(d))
  .attr('stroke', '#000')
  .attr('stroke-width', 2.6)

svg.append('rect')
  .attr('x', x(timeSpan[0]))
  .attr('y', margin.top)
  .attr('width', x(timeSpan[1]) - x(timeSpan[0]))
  .attr('height', height - margin.bottom - margin.top)
  .attr('fill', 'none')
  .attr('stroke', '#000')
  .attr('stroke-width', 2.6)

const xAxis = svg.append('g')
  .attr('transform', `translate(0, ${height - margin.bottom})`)
  .call(d3.axisBottom(x).tickValues(timeTicks).tickSize(0).tickPadding(14))

xAxis.select('.domain').remove()
xAxis.selectAll('text')
  .style('font-size', '28px')
  .style('font-family', '"Liberation Sans", Arial, sans-serif')

svg.append('text')
  .attr('x', x(40) + 2)
  .attr('y', 3068)
  .style('font-size', '36px')
  .style('font-weight', 'bold')
  .text(axisLabel)
</script>
</body>
</html>
